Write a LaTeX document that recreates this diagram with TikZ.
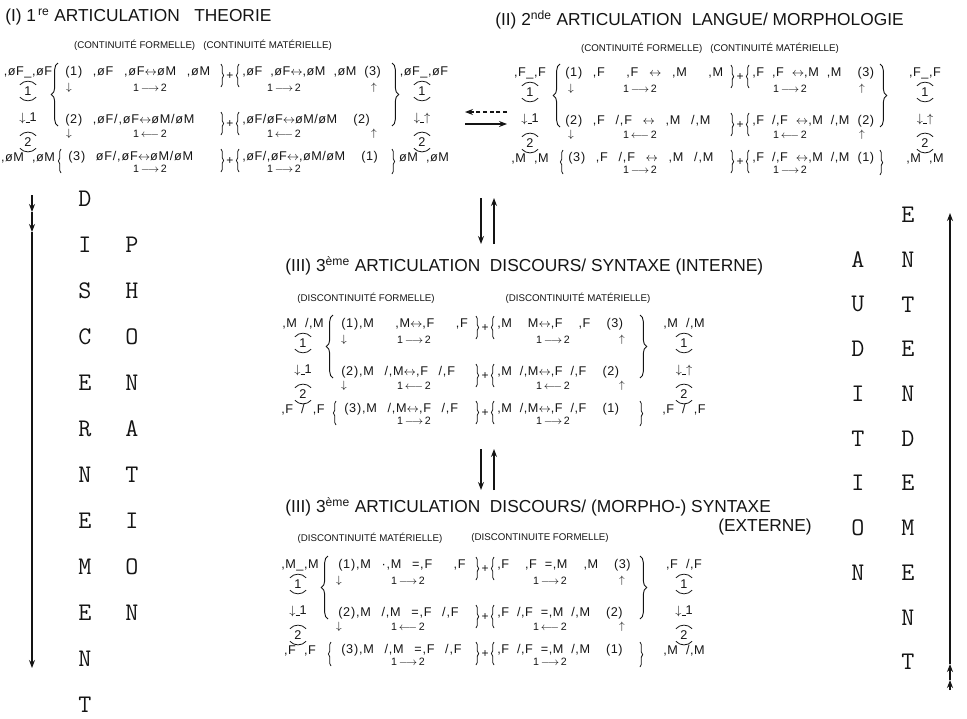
\documentclass[tikz,border=0pt]{standalone}
\usepackage{fontspec}
\setmainfont{Liberation Sans}
\newfontfamily\leftfont{Liberation Sans}[LetterSpace=6,WordSpace=2.5]
\newfontfamily\rightfont{Liberation Sans}[LetterSpace=4,WordSpace=2]
\usepackage{tikz}
\usetikzlibrary{
    arrows.meta,
    decorations.pathreplacing,
    positioning
}
\definecolor{inkblack}{RGB}{20,20,20}

\begin{document}
\begin{tikzpicture}[
    x=0.75pt, y=-0.75pt,
    every node/.style={inner sep=0pt, text=inkblack},
    title/.style={anchor=west, font=\fontsize{13}{15}\selectfont},
    sub/.style={font=\fontsize{7.3}{8}\selectfont},
    terml/.style={anchor=west, font=\leftfont\fontsize{9.5}{11}\selectfont},
    termr/.style={anchor=west, font=\rightfont\fontsize{9.5}{11}\selectfont},
    side/.style={font=\rightfont\fontsize{9.5}{11}\selectfont},
    flow/.style={font=\fontsize{8}{9}\selectfont},
    dig/.style={inner sep=1.2pt, font=\fontsize{9.5}{11}\selectfont},
    plus/.style={font=\fontsize{9}{10}\selectfont},
    letter/.style={font=\ttfamily\fontsize{19}{20}\selectfont},
    arrow/.style={-{Stealth[length=6pt, width=4.5pt]}, line width=0.9pt, draw=inkblack},
    bow/.style={line width=0.6pt, draw=inkblack},
    bigbrace/.style={decorate, decoration={brace, amplitude=5pt}, line width=0.7pt, draw=inkblack},
    smallbrace/.style={decorate, decoration={brace, amplitude=2pt}, line width=0.6pt, draw=inkblack}
]
\useasboundingbox (0,0) rectangle (967,718);

% frame shared by the four articulations: side columns, braces, plus signs, 1-2 steps
\foreach \bl/\X/\Y/\Px/\Bx/\Rx/\fl/\fr/\mk in {I/28/72/230/392/422/-80/54/{$\uparrow$},
        II/530/73/740/880/925/-100/50/{$\uparrow$},
        III/303/324/485/640/684/-71/68/{$\uparrow$},
        IV/298/565/485/640/684/-77/65/1} {
    % side columns: 1 and 2 held between bows
    \foreach \s/\cx/\q in {l/\X/1, r/\Rx/\mk} {
        \node[dig] (\bl-\s1) at (\cx,\Y+19) {1};
        \node[dig] (\bl-\s0) at (\cx,\Y+46) {$\downarrow$\rule[-1pt]{3pt}{0.5pt}\q};
        \node[dig] (\bl-\s2) at (\cx,\Y+70) {2};
        \foreach \d in {1,2} {
            \draw[bow] ([xshift=-2pt]\bl-\s\d.north west) to[bend left=50] ([xshift=2pt]\bl-\s\d.north east);
            \draw[bow] ([xshift=-2pt]\bl-\s\d.south west) to[bend right=50] ([xshift=2pt]\bl-\s\d.south east);
        }
    }
    % braces round rows 1-2 and round row 3
    \draw[bigbrace] (\X+30,\Y+54) -- (\X+30,\Y-9);
    \draw[bigbrace] (\Bx,\Y-9) -- (\Bx,\Y+54);
    \draw[smallbrace] (\X+33,\Y+101) -- (\X+33,\Y+77);
    \draw[smallbrace] (\Bx,\Y+77) -- (\Bx,\Y+102);
    \foreach \r in {0,48,85} {
        \node[plus] (\bl-plus\r) at (\Px,\Y+\r+4) {+};
        \draw[smallbrace] (\Px-9,\Y+\r-8) -- (\Px-9,\Y+\r+15);
        \draw[smallbrace] (\Px+9,\Y+\r+15) -- (\Px+9,\Y+\r-8);
    }
    % 1-2 steps under the rows
    \foreach \r/\ar in {16/{$\longrightarrow$}, 62/{$\longleftarrow$}, 97/{$\longrightarrow$}} {
        \node[flow] (\bl-fl\r) at (\Px+\fl,\Y+\r) {1\,\ar\,2};
        \node[flow] (\bl-fr\r) at (\Px+\fr,\Y+\r) {1\,\ar\,2};
    }
    \foreach \r in {16,62} {
        \node[flow] (\bl-dn\r) at (\X+41,\Y+\r) {$\downarrow$};
        \node[flow] (\bl-up\r) at (\Bx-18,\Y+\r) {$\uparrow$};
    }
}

% (I) first articulation
\node[title] (I-title) at (5,17) {(I) 1\textsuperscript{\,re} ARTICULATION~~~THEORIE};
\node[sub] (I-sub) at (203,45) {(CONTINUITÉ FORMELLE)~~~(CONTINUITÉ MATÉRIELLE)};
\node[side] (I-lt) at (28,72) {,øF\_,øF};
\node[side] (I-lb) at (28,158) {,øM ,øM};
\node[side] (I-rt) at (424,72) {,øF\_,øF};
\node[side] (I-rb) at (424,158) {øM ,øM};
\node[terml] (I-r1l) at (65,72) {(1) ,øF~,øF$\leftrightarrow$øM ,øM};
\node[terml] (I-r2l) at (65,120) {(2) ,øF/,øF$\leftrightarrow$øM/øM};
\node[terml] (I-r3l) at (68,157) {(3) øF/,øF$\leftrightarrow$øM/øM};
\node[termr] (I-r1r) at (242,72) {,øF ,øF$\leftrightarrow$,øM ,øM~(3)};
\node[termr] (I-r2r) at (242,120) {,øF/øF$\leftrightarrow$øM/øM~~(2)};
\node[termr] (I-r3r) at (242,157) {,øF/,øF$\leftrightarrow$,øM/øM~~(1)};

% (II) second articulation
\node[title] (II-title) at (495,20) {(II) 2\textsuperscript{nde} ARTICULATION~~LANGUE/ MORPHOLOGIE};
\node[sub] (II-sub) at (710,48) {(CONTINUITÉ FORMELLE)~~~(CONTINUITÉ MATÉRIELLE)};
\node[side] (II-lt) at (530,73) {,F\_,F};
\node[side] (II-lb) at (530,159) {,M ,M};
\node[side] (II-rt) at (925,73) {,F\_,F};
\node[side] (II-rb) at (925,159) {,M ,M};
\node[terml] (II-r1l) at (565,73) {(1) ,F~~,F $\leftrightarrow$ ,M~~,M};
\node[terml] (II-r2l) at (565,121) {(2) ,F /,F $\leftrightarrow$ ,M /,M};
\node[terml] (II-r3l) at (568,158) {(3) ,F /,F $\leftrightarrow$ ,M /,M};
\node[termr] (II-r1r) at (752,73) {,F~,F $\leftrightarrow$,M~,M~~(3)};
\node[termr] (II-r2r) at (752,121) {,F /,F $\leftrightarrow$,M /,M~(2)};
\node[termr] (II-r3r) at (752,158) {,F /,F $\leftrightarrow$,M /,M~(1)};

% (III) third articulation, internal
\node[title] (III-title) at (285,266) {(III) 3\textsuperscript{ème} ARTICULATION~~DISCOURS/ SYNTAXE (INTERNE)};
\node[sub] (III-subf) at (366,298) {(DISCONTINUITÉ FORMELLE)};
\node[sub] (III-subm) at (578,298) {(DISCONTINUITÉ MATÉRIELLE)};
\node[side] (III-lt) at (303,324) {,M /,M};
\node[side] (III-lb) at (303,410) {,F / ,F};
\node[side] (III-rt) at (684,324) {,M /,M};
\node[side] (III-rb) at (684,410) {,F / ,F};
\node[terml] (III-r1l) at (341,324) {(1),M~~,M$\leftrightarrow$,F~~,F};
\node[terml] (III-r2l) at (341,372) {(2),M /,M$\leftrightarrow$,F /,F};
\node[terml] (III-r3l) at (344,409) {(3),M /,M$\leftrightarrow$,F /,F};
\node[termr] (III-r1r) at (497,324) {,M~~M$\leftrightarrow$,F~~,F~~(3)};
\node[termr] (III-r2r) at (497,372) {,M /,M$\leftrightarrow$,F /,F~~(2)};
\node[termr] (III-r3r) at (497,409) {,M /,M$\leftrightarrow$,F /,F~~(1)};

% (III) third articulation, external
\node[title] (IV-title) at (285,507) {(III) 3\textsuperscript{ème} ARTICULATION~~DISCOURS/ (MORPHO-) SYNTAXE};
\node[title] (IV-ext) at (718,527) {(EXTERNE)};
\node[sub] (IV-subm) at (370,538) {(DISCONTINUITÉ MATÉRIELLE)};
\node[sub] (IV-subf) at (540,538) {(DISCONTINUITE FORMELLE)};
\node[side] (IV-lt) at (300,565) {,M\_,M};
\node[side] (IV-lb) at (300,651) {,F ,F};
\node[side] (IV-rt) at (684,565) {,F /,F};
\node[side] (IV-rb) at (684,651) {,M /,M};
\node[terml] (IV-r1l) at (338,565) {(1),M ·,M =,F~~,F};
\node[terml] (IV-r2l) at (338,613) {(2),M /,M =,F /,F};
\node[terml] (IV-r3l) at (341,650) {(3),M /,M =,F /,F};
\node[termr] (IV-r1r) at (497,565) {,F~~,F =,M~~,M~~(3)};
\node[termr] (IV-r2r) at (497,613) {,F /,F =,M /,M~~(2)};
\node[termr] (IV-r3r) at (497,650) {,F /,F =,M /,M~~(1)};

% arrows between the articulations
\coordinate (a1) at (507,112);
\coordinate (a2) at (465,112);
\coordinate (a3) at (465,124);
\coordinate (a4) at (507,124);
\draw[arrow, dash pattern=on 3pt off 2pt] (a1) -- (a2);
\draw[arrow] (a3) -- (a4);
\coordinate (v1) at (481,198);
\coordinate (v2) at (481,244);
\coordinate (v3) at (494,244);
\coordinate (v4) at (494,198);
\draw[arrow] (v1) -- (v2);
\draw[arrow] (v3) -- (v4);
\coordinate (v5) at (481,449);
\coordinate (v6) at (481,490);
\coordinate (v7) at (494,490);
\coordinate (v8) at (494,449);
\draw[arrow] (v5) -- (v6);
\draw[arrow] (v7) -- (v8);

% discernement / phonation (down)
\coordinate (la0) at (32,195);
\coordinate (la1) at (32,212);
\coordinate (la2) at (32,232);
\coordinate (la3) at (32,668);
\draw[arrow] (la0) -- (la1);
\draw[arrow] (la1) -- (la2);
\draw[arrow] (la2) -- (la3);
\foreach \ch [count=\i] in {D,I,S,C,E,R,N,E,M,E,N,T}
    \node[letter] (disc\i) at (85,{199+46*(\i-1)}) {\ch};
\foreach \ch [count=\i] in {P,H,O,N,A,T,I,O,N}
    \node[letter] (phon\i) at (132,{199+46*\i}) {\ch};

% audition / entendement (up)
\coordinate (ra0) at (950,690);
\coordinate (ra1) at (950,680);
\coordinate (ra2) at (950,664);
\coordinate (ra3) at (950,213);
\draw[arrow] (ra0) -- (ra1);
\draw[arrow] (ra1) -- (ra2);
\draw[arrow] (ra2) -- (ra3);
\foreach \ch [count=\i] in {E,N,T,E,N,D,E,M,E,N,T}
    \node[letter] (ent\i) at (908,{215+44.7*(\i-1)}) {\ch};
\foreach \ch [count=\i] in {A,U,D,I,T,I,O,N}
    \node[letter] (aud\i) at (858,{215+44.7*\i}) {\ch};

\end{tikzpicture}
\end{document}
